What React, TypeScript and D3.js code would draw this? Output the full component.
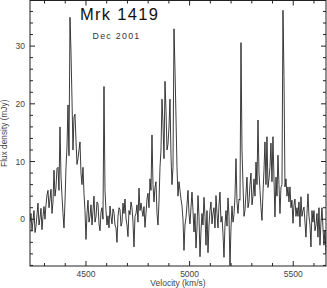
import React from "react";
import * as d3 from "d3";

// Mrk 1419 spectrum, Dec 2001 — channel grid
const velocityStart = 4230; // km/s, first channel
const channelWidth = 4.824; // km/s

// flux density (mJy) per channel
const fluxBlueshifted = [
  -0.5, 1.0, -2.0, -0.3, 1.5, -2.3, -1.2, 0.8, 2.8, -1.0,
  0.2, 1.9, -1.8, 0.5, 2.2, 0.0, 2.5, 4.2, 5.0, 2.0,
  3.5, 5.2, 1.0, 3.0, 8.5, 4.0, 5.5, 8.8, 9.0, 5.0,
  16.0, 7.5, 4.0, 1.0, -1.5, 3.0, 9.0, 12.5, 19.8, 11.0,
  35.0, 29.0, 20.8, 12.0, 17.7, 18.2, 13.7, 9.5, 10.5, 12.0,
  13.4, 8.0, 6.0, 9.0, 4.5, 1.5, -3.5, 1.0, 3.3, -0.5,
  0.5, 2.5, -1.0, 1.5, 4.0, -0.5, 0.4, 3.0, 2.7, -0.8,
  -2.0, 1.2, 2.0, 0.0, 23.0, 5.0, 1.5,
];
const fluxGap1 = [
  -1.0, 0.6, -1.5, 2.3, 0.5, -0.8, 1.8, 1.2, -1.0, -1.5,
  -4.0, 0.5, 2.0, 1.7, -1.2, -0.6, 2.8, 1.0, 3.5, 0.2,
  -1.0, -3.0, 1.5, 0.8, 3.0, 2.0, -0.5, -4.8, 0.5, 1.0,
  2.5, -0.5, 5.4, 1.5, 2.8, 1.5, 0.5, 2.2, -1.4, 1.0,
  3.5, 4.5, 2.0, 7.0, 5.0, 14.6, 6.0, 3.0, 5.5, 6.5,
  1.0, -1.0,
];
const fluxSystemic = [
  3.0, 9.0, 12.0, 20.8, 16.5, 10.5, 23.9, 18.9, 12.0, 13.0,
  16.0, 20.8, 11.0, 6.0, 9.0, 33.0, 26.0, 17.7, 9.0, 4.0,
  6.5, 5.0, 3.5,
];
const fluxGap2 = [
  2.3, 0.0, -5.4, -1.0, 0.3, 2.5, 5.0, 1.0, -0.8, 2.0,
  4.7, 1.5, -2.2, 1.0, -5.0, -1.5, 4.1, 0.5, -6.5, -2.0,
  1.0, -1.0, 3.8, 0.5, -4.5, 1.5, -5.8, -1.0, 1.5, 3.0,
  -0.8, 1.0, 2.0, -1.5, 4.1, 1.0, -1.5, 2.5, 4.7, -0.5,
  0.5, -2.5, -6.6, -1.0, 1.5, -1.2, 3.7, 0.5, -8.0, -1.5,
  2.3, -0.5, 0.8, 4.0, 10.5, 3.0, 1.0, 3.5, 3.3,
];
const fluxRedshifted = [
  30.6, 12.0, 6.1, 0.5, 1.5, 4.5, 7.3, 2.0, 3.0, 6.0,
  8.0, 2.5, 4.0, 7.0, 4.0, 9.9, 6.0, 17.2, 8.0, 5.0,
  2.0, -0.2, 4.5, 8.5, 13.4, 6.0, 14.3, 5.5, 7.0, 9.0,
  13.2, 6.5, 14.3, 7.0, 0.4, 7.3, 4.0, 11.1, 6.0, 1.0,
  5.5, 6.0, 36.2, 24.7, 5.6, 7.0, 4.0, 5.6, 3.0, 5.6,
  2.0, 3.3, -0.7, 2.5, 3.5, 0.5, 2.0, 0.5, 3.0, -1.3,
  3.9, 0.5, 1.5, 2.1, -0.5, -3.1, 1.0, 4.4, 0.5, -1.0,
  -4.8, 1.5, -0.5, 1.5, -2.0, -1.0, 1.0, -3.1, 2.0, -4.5,
  -0.5, 2.0, -1.5, -4.5, -1.9, -5.9,
];

const xTickLabels = [4500, 5000, 5500];
const yTickLabels = [0, 10, 20, 30];

const W = 327;
const H = 288;
const margin = { top: 0.5, right: 1, bottom: 22, left: 30 };
const font = "'Liberation Sans', Arial, sans-serif";

const App = () => {
  const flux = [
    ...fluxBlueshifted,
    ...fluxGap1,
    ...fluxSystemic,
    ...fluxGap2,
    ...fluxRedshifted,
  ];
  const data = flux.map((f, i) => ({ v: velocityStart + i * channelWidth, f }));

  const x = d3
    .scaleLinear()
    .domain([4230, 5658])
    .range([margin.left, W - margin.right]);
  const y = d3
    .scaleLinear()
    .domain([-8.1, 37.9])
    .range([H - margin.bottom, margin.top]);

  const line = d3
    .line<{ v: number; f: number }>()
    .x((d) => x(d.v))
    .y((d) => y(d.f));

  const x0 = margin.left;
  const x1 = W - margin.right;
  const y0 = H - margin.bottom;
  const y1 = margin.top;

  const xMinor = d3.range(4300, 5700, 100);
  const yMinor = d3.range(-8, 38, 2);

  return (
    <>
      <style>{`body{margin:0}`}</style>
      <svg width={W} height={H} style={{ display: "block", background: "#fff" }}>
        <defs>
          <clipPath id="plot">
            <rect x={x0} y={y1} width={x1 - x0} height={y0 - y1} />
          </clipPath>
        </defs>

        <path
          d={line(data) ?? ""}
          fill="none"
          stroke="#1a1a1a"
          strokeWidth={0.85}
          clipPath="url(#plot)"
        />

        {/* frame */}
        <rect x={x0} y={y1} width={x1 - x0} height={y0 - y1} fill="none" stroke="#222" strokeWidth={1} />

        {/* ticks on all four sides, pointing inward */}
        {xMinor.map((v) => {
          const len = xTickLabels.includes(v) ? 5 : 3;
          return (
            <g key={"x" + v}>
              <line x1={x(v)} x2={x(v)} y1={y0} y2={y0 - len} stroke="#222" />
              <line x1={x(v)} x2={x(v)} y1={y1} y2={y1 + len} stroke="#222" />
            </g>
          );
        })}
        {yMinor.map((v) => {
          const len = yTickLabels.includes(v) ? 5 : 3;
          return (
            <g key={"y" + v}>
              <line x1={x0} x2={x0 + len} y1={y(v)} y2={y(v)} stroke="#222" />
              <line x1={x1} x2={x1 - len} y1={y(v)} y2={y(v)} stroke="#222" />
            </g>
          );
        })}

        {xTickLabels.map((v) => (
          <text key={"xl" + v} x={x(v)} y={277} textAnchor="middle" fontFamily={font} fontSize={8.5} fill="#444">
            {v}
          </text>
        ))}
        {yTickLabels.map((v) => (
          <text key={"yl" + v} x={25} y={y(v) + 3} textAnchor="end" fontFamily={font} fontSize={8.5} fill="#444">
            {v}
          </text>
        ))}

        <text x={178} y={286} textAnchor="middle" fontFamily={font} fontSize={8.5} fill="#444">
          Velocity (km/s)
        </text>
        <text
          transform={`translate(7,${(y0 + y1) / 2}) rotate(-90)`}
          textAnchor="middle"
          fontFamily={font}
          fontSize={8.3}
          fill="#444"
        >
          Flux density (mJy)
        </text>

        <text x={80} y={20} fontFamily={font} fontSize={16.5} letterSpacing={1.3} fill="#111">
          Mrk 1419
        </text>
        <text x={92.5} y={38.5} fontFamily={font} fontSize={8.8} letterSpacing={1.3} fill="#333">
          Dec 2001
        </text>
      </svg>
    </>
  );
};

export default App;
